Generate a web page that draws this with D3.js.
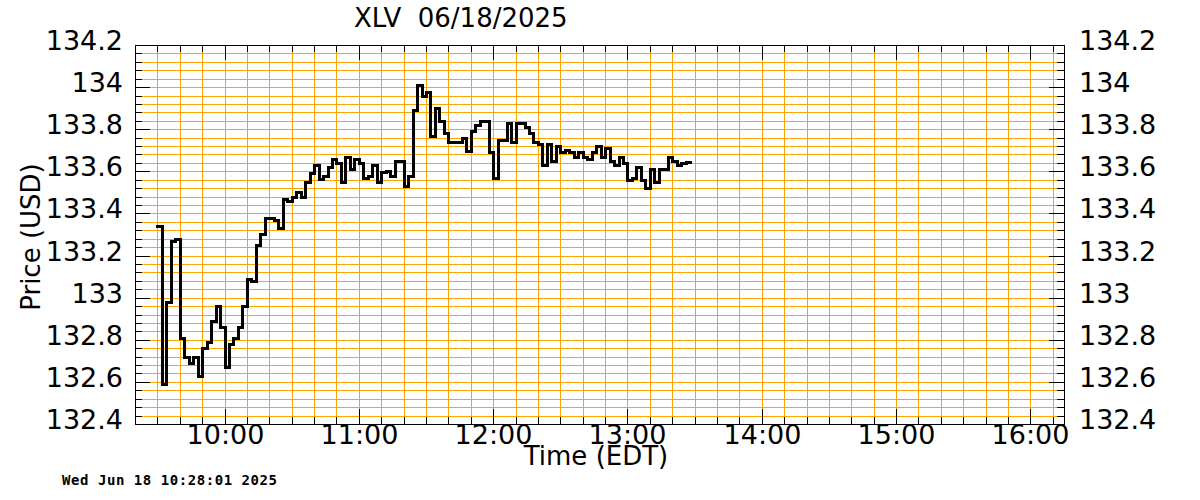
<!DOCTYPE html>
<html>
<head>
<meta charset="utf-8">
<script src="https://cdn.jsdelivr.net/npm/d3@7"></script>
<style>
  html, body { margin: 0; padding: 0; background: #fff; }
  svg { display: block; font-family: "DejaVu Sans", sans-serif; }
</style>
</head>
<body>
<svg id="chart" width="1200" height="500"></svg>
<script>
// ---------- data ----------
const title = "XLV  06/18/2025";
const xAxisTitle = "Time (EDT)";
const yAxisTitle = "Price (USD)";
const stamp = "Wed Jun 18 10:28:01 2025";

const times = [
  "09:30","09:32","09:34","09:36","09:38","09:40","09:42","09:44","09:46","09:48",
  "09:50","09:52","09:54","09:56","09:58","10:00","10:02","10:04","10:06","10:08",
  "10:10","10:12","10:14","10:16","10:18","10:20","10:22","10:24","10:26","10:28",
  "10:30","10:32","10:34","10:36","10:38","10:40","10:42","10:44","10:46","10:48",
  "10:50","10:52","10:54","10:56","10:58","11:00","11:02","11:04","11:06","11:08",
  "11:10","11:12","11:14","11:16","11:18","11:20","11:22","11:24","11:26","11:28",
  "11:30","11:32","11:34","11:36","11:38","11:40","11:42","11:44","11:46","11:48",
  "11:50","11:52","11:54","11:56","11:58","12:00","12:02","12:04","12:06","12:08",
  "12:10","12:12","12:14","12:16","12:18","12:20","12:22","12:24","12:26","12:28",
  "12:30","12:32","12:34","12:36","12:38","12:40","12:42","12:44","12:46","12:48",
  "12:50","12:52","12:54","12:56","12:58","13:00","13:02","13:04","13:06","13:08",
  "13:10","13:12","13:14","13:16","13:18","13:20","13:22","13:24","13:26","13:28"
];

const prices = [
  133.34,132.59,132.98,133.27,133.28,132.81,132.72,132.69,132.72,132.63,
  132.76,132.79,132.89,132.96,132.86,132.67,132.78,132.81,132.86,132.96,
  133.09,133.08,133.25,133.30,133.38,133.38,133.37,133.33,133.47,133.46,
  133.48,133.50,133.48,133.55,133.59,133.63,133.565,133.58,133.62,133.66,
  133.64,133.55,133.67,133.61,133.66,133.64,133.57,133.58,133.63,133.55,
  133.595,133.60,133.58,133.65,133.65,133.53,133.58,133.89,134.01,133.96,
  133.975,133.77,133.90,133.84,133.78,133.74,133.74,133.74,133.76,133.695,
  133.79,133.82,133.84,133.84,133.69,133.57,133.75,133.75,133.83,133.74,
  133.83,133.83,133.81,133.78,133.74,133.73,133.63,133.73,133.65,133.72,
  133.69,133.70,133.69,133.67,133.69,133.67,133.66,133.69,133.72,133.67,
  133.71,133.65,133.63,133.67,133.64,133.56,133.57,133.62,133.56,133.52,
  133.61,133.55,133.61,133.61,133.67,133.65,133.63,133.64,133.643,133.643
];

const xDomain = ["09:20", "16:15"];
const yDomain = [132.4, 134.2];
const hourTicks = ["10:00","11:00","12:00","13:00","14:00","15:00","16:00"];
const yTickValues = [132.4,132.6,132.8,133.0,133.2,133.4,133.6,133.8,134.0,134.2];
const yTickLabels = ["132.4","132.6","132.8","133","133.2","133.4","133.6","133.8","134","134.2"];

// ---------- layout ----------
const L = 135, R = 1064, T = 45, B = 424;
const W = R - L, H = B - T;
const parse = d3.timeParse("%H:%M");

const x = d3.scaleTime().domain(xDomain.map(parse)).rangeRound([L, R]);
const y = d3.scaleLinear().domain(yDomain).rangeRound([B, T]);

const minorX = d3.timeMinute.every(10).range(parse("09:30"), parse("16:15"));
const majorX = hourTicks.map(parse);
const minorY = d3.range(1, 45).map(i => +(yDomain[0] + i * 0.04).toFixed(2));
const majorY = yTickValues.slice(1, -1);

const svg = d3.select("#chart");
const ORANGE = "#ffa500";

function clean(g) { g.select(".domain").remove(); }

// ---------- grid ----------
svg.append("g").attr("transform", `translate(0,${B})`)
  .call(d3.axisBottom(x).tickValues(minorX).tickSize(-H).tickFormat(""))
  .call(clean)
  .selectAll("line").attr("stroke", ORANGE);
svg.append("g").attr("transform", `translate(${L},0)`)
  .call(d3.axisLeft(y).tickValues(minorY).tickSize(-W).tickFormat(""))
  .call(clean)
  .selectAll("line").attr("stroke", ORANGE);

// ---------- tick marks ----------
function ticks(axisFn, pos, vals, size) {
  svg.append("g").attr("transform", pos)
    .call(axisFn.tickValues(vals).tickSize(-size).tickFormat(""))
    .call(clean)
    .selectAll("line").attr("stroke", "#000");
}
ticks(d3.axisBottom(x), `translate(0,${B})`, minorX, 7);
ticks(d3.axisBottom(x), `translate(0,${B})`, majorX, 15);
ticks(d3.axisTop(x), `translate(0,${T})`, minorX, 7);
ticks(d3.axisTop(x), `translate(0,${T})`, majorX, 15);
ticks(d3.axisLeft(y), `translate(${L},0)`, minorY, 7);
ticks(d3.axisLeft(y), `translate(${L},0)`, majorY, 15);
ticks(d3.axisRight(y), `translate(${R},0)`, minorY, 7);
ticks(d3.axisRight(y), `translate(${R},0)`, majorY, 15);

// ---------- border ----------
svg.append("rect")
  .attr("x", L + 0.5).attr("y", T + 0.5)
  .attr("width", W).attr("height", H)
  .attr("fill", "none").attr("stroke", "#000").attr("stroke-width", 1);

// ---------- tick labels ----------
const labelFmt = v => yTickLabels[yTickValues.indexOf(v)];
const gl = svg.append("g").attr("transform", `translate(${L},0)`)
  .call(d3.axisLeft(y).tickValues(yTickValues).tickSize(0).tickPadding(12).tickFormat(labelFmt))
  .call(clean);
const gr = svg.append("g").attr("transform", `translate(${R},0)`)
  .call(d3.axisRight(y).tickValues(yTickValues).tickSize(0).tickPadding(15).tickFormat(labelFmt))
  .call(clean);
[gl, gr].forEach(g => g.selectAll("text")
  .attr("dy", "0.15em").attr("font-size", 27)
  .attr("font-family", "DejaVu Sans").attr("fill", "#000"));

svg.append("g").attr("transform", `translate(0,${B})`)
  .call(d3.axisBottom(x).tickValues(majorX).tickSize(0).tickPadding(1).tickFormat(d3.timeFormat("%H:%M")))
  .call(clean)
  .selectAll("text").attr("font-size", 27).attr("font-family", "DejaVu Sans").attr("fill", "#000");

// ---------- data line ----------
const pts = times.map((t, i) => ({ t: parse(t), v: prices[i] }));
svg.append("path")
  .datum(pts)
  .attr("transform", "translate(0.5,0.5)")
  .attr("fill", "none")
  .attr("stroke", "#000")
  .attr("stroke-width", 3)
  .attr("stroke-linecap", "square")
  .attr("d", d3.line().x(d => x(d.t)).y(d => y(d.v)).curve(d3.curveStepAfter));

// ---------- titles ----------
svg.append("text")
  .attr("x", 354).attr("y", 27)
  .attr("font-size", 26).style("white-space", "pre")
  .text(title);

svg.append("text")
  .attr("x", 596).attr("y", 465)
  .attr("text-anchor", "middle").attr("font-size", 26)
  .text(xAxisTitle);

svg.append("text")
  .attr("transform", "translate(40,237) rotate(-90)")
  .attr("text-anchor", "middle").attr("font-size", 26)
  .text(yAxisTitle);

svg.append("text")
  .attr("x", 62).attr("y", 485)
  .attr("font-family", "DejaVu Sans Mono").attr("font-weight", "bold")
  .attr("font-size", 14)
  .attr("textLength", 215).attr("lengthAdjust", "spacing")
  .style("white-space", "pre")
  .text(stamp);
</script>
</body>
</html>
